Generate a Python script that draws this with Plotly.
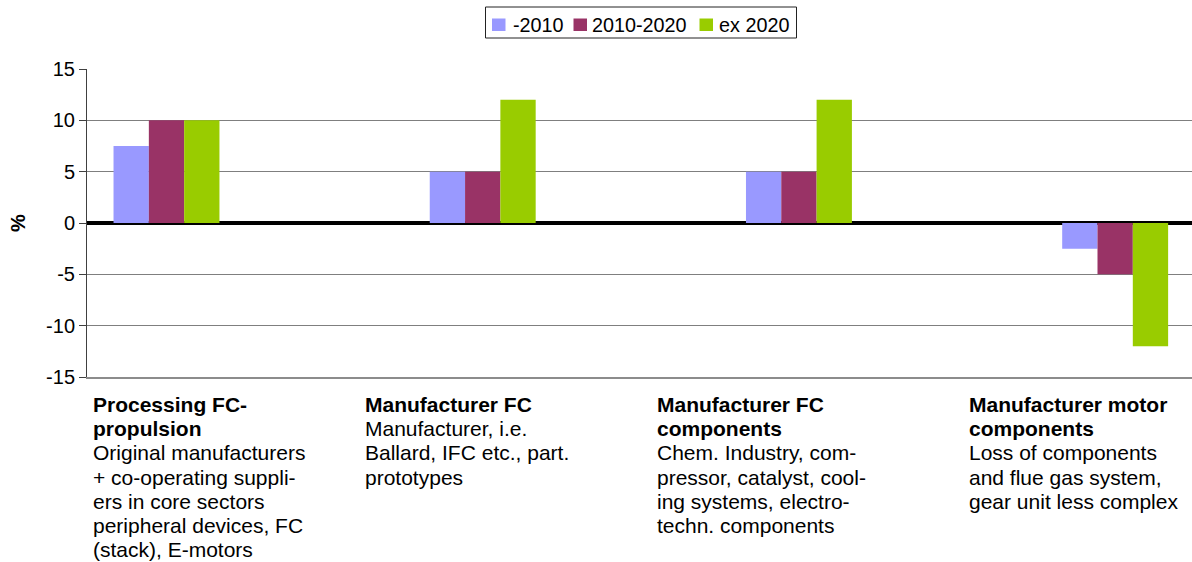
import plotly.graph_objects as go

# Data
categories = ["Processing FC-propulsion", "Manufacturer FC",
              "Manufacturer FC components", "Manufacturer motor components"]
series_names = ["-2010", "2010-2020", "ex 2020"]
values_2010 = [7.5, 5, 5, -2.5]
values_2010_2020 = [10, 5, 5, -5]
values_ex_2020 = [10, 12, 12, -12]

y_tick_values = [-15, -10, -5, 0, 5, 10, 15]
y_tick_labels = ["-15", "-10", "-5", "0", "5", "10", "15"]

# Category descriptions: (bold heading lines, plain description lines)
label_titles = [
    ["Processing FC-", "propulsion"],
    ["Manufacturer FC"],
    ["Manufacturer FC", "components"],
    ["Manufacturer motor", "components"],
]
label_details = [
    ["Original manufacturers", "+ co-operating suppli-", "ers in core sectors",
     "peripheral devices, FC", "(stack), E-motors"],
    ["Manufacturer, i.e.", "Ballard, IFC etc., part.", "prototypes"],
    ["Chem. Industry, com-", "pressor, catalyst, cool-", "ing systems, electro-",
     "techn. components"],
    ["Loss of components", "and flue gas system,", "gear unit less complex"],
]

colors = ["#9999FF", "#993366", "#99CC00"]
FONT = "Liberation Sans, Arial, sans-serif"

fig = go.Figure()
for name, vals, col in zip(series_names,
                           [values_2010, values_2010_2020, values_ex_2020],
                           colors):
    fig.add_trace(go.Bar(x=categories, y=vals, name=name,
                         marker=dict(color=col, line=dict(width=0))))

# Plot area geometry (pixels) used to place text and legend outside the axes
W, H = 1192, 562
L, R, T, B = 87, 0, 69, 185
plot_w = W - L - R
plot_h = H - T - B

def px_x(px):
    return (px - L) / plot_w

def px_y(py):
    return (H - B - py) / plot_h

label_left = [91, 363, 655, 967]
line_y0, line_step = 404.5, 24.2

annotations = []
shapes = []
for left, titles, details in zip(label_left, label_titles, label_details):
    lines = [("<b>%s</b>" % t) for t in titles] + details
    for i, txt in enumerate(lines):
        annotations.append(dict(
            text=txt, xref="paper", yref="paper",
            x=px_x(left), y=px_y(line_y0 + i * line_step),
            xanchor="left", yanchor="middle", showarrow=False,
            font=dict(family=FONT, size=21, color="black"),
        ))

annotations.append(dict(
    text="<b>%</b>", xref="paper", yref="paper",
    x=px_x(18), y=px_y(223), xanchor="center", yanchor="middle",
    textangle=-90, showarrow=False,
    font=dict(family=FONT, size=20, color="black"),
))

# Legend: framed box with square swatches and series names
shapes.append(dict(type="rect", xref="paper", yref="paper",
                   x0=px_x(485.5), x1=px_x(796.5), y0=px_y(7), y1=px_y(38),
                   line=dict(color="#222222", width=1), fillcolor="white"))
swatch_left = [492, 573.5, 699.5]
text_left = [510.5, 589.5, 717]
for name, col, sx, tx in zip(series_names, colors, swatch_left, text_left):
    shapes.append(dict(type="rect", xref="paper", yref="paper",
                       x0=px_x(sx), x1=px_x(sx + 13.5),
                       y0=px_y(18.5), y1=px_y(31),
                       line=dict(width=0), fillcolor=col))
    annotations.append(dict(
        text=name, xref="paper", yref="paper",
        x=px_x(tx), y=px_y(24.5), xanchor="left", yanchor="middle",
        showarrow=False, font=dict(family=FONT, size=19.8, color="black"),
    ))

fig.update_layout(
    width=W, height=H,
    margin=dict(l=L, r=R, t=T, b=B, pad=0),
    paper_bgcolor="white", plot_bgcolor="white",
    barmode="group", bargap=0.665, bargroupgap=0,
    font=dict(family=FONT, size=20, color="black"),
    showlegend=False,
    annotations=annotations,
    shapes=shapes,
)

fig.update_xaxes(
    type="category", range=[-0.2514, 3.243],
    showticklabels=False, ticks="", showgrid=False,
    showline=True, linecolor="#8c8c8c", linewidth=2, zeroline=False,
)

fig.update_yaxes(
    range=[-15, 15], tickvals=y_tick_values, ticktext=y_tick_labels,
    showgrid=True, gridcolor="#7f7f7f", gridwidth=1,
    showline=True, linecolor="#404040", linewidth=1,
    ticks="outside", ticklen=7, tickcolor="#404040",
    zeroline=True, zerolinecolor="black", zerolinewidth=4,
    tickfont=dict(family=FONT, size=20, color="black"),
)

fig.write_html("out.html")
